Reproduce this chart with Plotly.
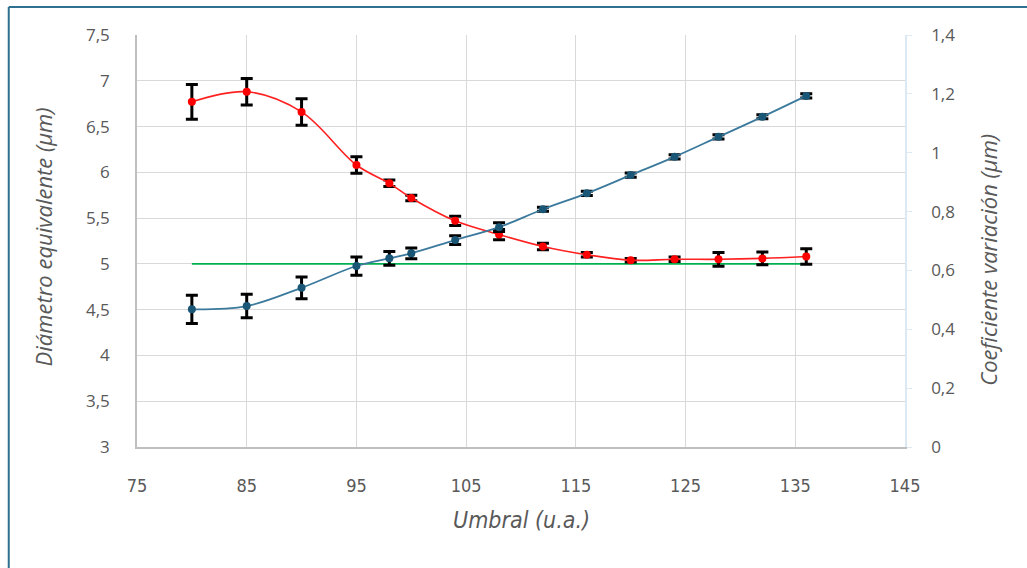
import plotly.graph_objects as go

# Data
umbral = [80, 85, 90, 95, 98, 100, 104, 108, 112, 116, 120, 124, 128, 132, 136]
diametro = [6.77, 6.88, 6.66, 6.08, 5.88, 5.72, 5.47, 5.32, 5.19, 5.10, 5.04, 5.05, 5.05, 5.06, 5.08]
diametro_err = [0.19, 0.145, 0.145, 0.09, 0.035, 0.03, 0.05, 0.055, 0.035, 0.025, 0.02, 0.025, 0.075, 0.07, 0.085]
coef_var = [0.468, 0.479, 0.541, 0.615, 0.641, 0.658, 0.703, 0.747, 0.808, 0.862, 0.924, 0.986, 1.054, 1.122, 1.193]
coef_err = [0.048, 0.040, 0.037, 0.031, 0.023, 0.018, 0.015, 0.015, 0.007, 0.007, 0.007, 0.007, 0.007, 0.007, 0.007]
ref_x = [80, 136]
ref_y = [5.0, 5.0]

x_ticks = [75, 85, 95, 105, 115, 125, 135, 145]

GRAY = "#595959"
FRAME = "#2f6f90"
NARROW = "DejaVu Sans Condensed, Liberation Sans Narrow, Open Sans, sans-serif"

fig = go.Figure()

fig.add_trace(go.Scatter(
    x=ref_x, y=ref_y, mode="lines",
    line=dict(color="#00b050", width=1.8),
    yaxis="y", showlegend=False, hoverinfo="skip"))

fig.add_trace(go.Scatter(
    x=umbral, y=diametro, mode="lines+markers",
    line=dict(color="#ff2020", width=1.6, shape="spline", smoothing=1.0),
    marker=dict(color="#ff0000", size=8),
    error_y=dict(type="data", array=diametro_err, visible=True,
                 color="black", thickness=3, width=6),
    yaxis="y", showlegend=False))

fig.add_trace(go.Scatter(
    x=umbral, y=coef_var, mode="lines+markers",
    line=dict(color="#3b7a9c", width=1.8, shape="spline", smoothing=1.0),
    marker=dict(color="#1a5676", size=8),
    error_y=dict(type="data", array=coef_err, visible=True,
                 color="black", thickness=3, width=6),
    yaxis="y2", showlegend=False))

fig.update_layout(
    width=1027, height=568,
    margin=dict(l=137, r=122, t=35, b=121),
    paper_bgcolor="white", plot_bgcolor="white",
    separators=",.",
    font=dict(family="Open Sans, sans-serif", color=GRAY, size=17),
    xaxis=dict(
        range=[75, 145], tickvals=x_ticks, ticktext=[str(v) for v in x_ticks],
        showgrid=True, gridcolor="#d9d9d9", gridwidth=1.3,
        showline=True, linecolor="#bfbfbf", linewidth=1.5,
        ticks="", ticklabelstandoff=22,
        tickfont=dict(family=NARROW, size=18, color=GRAY),
        zeroline=False),
    yaxis=dict(
        range=[3, 7.5], dtick=0.5, tick0=3,
        showgrid=True, gridcolor="#d9d9d9", gridwidth=1.3,
        showline=True, linecolor="#bfbfbf", linewidth=1.5,
        ticks="", ticklabelstandoff=22,
        tickfont=dict(family="Open Sans, sans-serif", size=17, color=GRAY),
        zeroline=False),
    yaxis2=dict(
        range=[0, 1.4], dtick=0.2, tick0=0, overlaying="y", side="right",
        showgrid=False, showline=True, linecolor="#dce8f2", linewidth=1.5,
        ticks="outside", ticklen=5, tickcolor="#dce8f2",
        ticklabelstandoff=16,
        tickfont=dict(family="Open Sans, sans-serif", size=17, color=GRAY),
        zeroline=False),
    shapes=[
        dict(type="line", xref="paper", yref="paper",
             x0=-0.167, x1=1.16, y0=1.068, y1=1.068,
             line=dict(color=FRAME, width=2)),
        dict(type="line", xref="paper", yref="paper",
             x0=-0.167, x1=-0.167, y0=1.068, y1=-0.3,
             line=dict(color=FRAME, width=2)),
    ],
    annotations=[
        dict(text="<i>Diámetro equivalente (µm)</i>", xref="paper", yref="paper",
             x=-0.123, y=0.51, textangle=-90, showarrow=False,
             xanchor="center", yanchor="middle",
             font=dict(family="Open Sans, sans-serif", size=22, color=GRAY)),
        dict(text="<i>Coeficiente variación (µm)</i>", xref="paper", yref="paper",
             x=1.107, y=0.455, textangle=-90, showarrow=False,
             xanchor="center", yanchor="middle",
             font=dict(family="Open Sans, sans-serif", size=22, color=GRAY)),
        dict(text="<i>Umbral (u.a.)</i>", xref="paper", yref="paper",
             x=0.5, y=-0.178, showarrow=False,
             xanchor="center", yanchor="middle",
             font=dict(family=NARROW, size=23, color=GRAY)),
    ],
)

fig.write_html("out.html")
